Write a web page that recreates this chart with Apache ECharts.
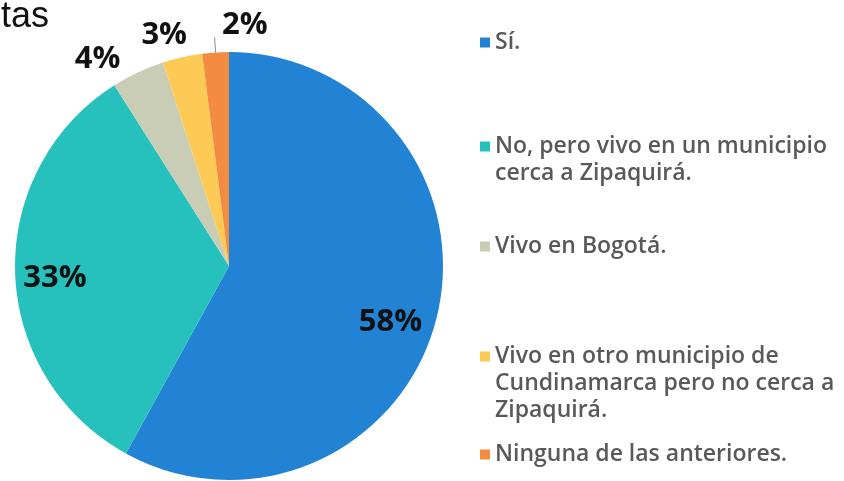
<!DOCTYPE html>
<html>
<head>
<meta charset="utf-8">
<script src="https://cdn.jsdelivr.net/npm/echarts@6/dist/echarts.min.js"></script>
<style>
  html, body { margin: 0; padding: 0; background: #fff; }
  #chart { width: 844px; height: 481px; }
</style>
</head>
<body>
<div id="chart"></div>
<script>
// datos de la encuesta
const categories = [
  'Sí.',
  'No, pero vivo en un municipio\ncerca a Zipaquirá.',
  'Vivo en Bogotá.',
  'Vivo en otro municipio de\nCundinamarca pero no cerca a\nZipaquirá.',
  'Ninguna de las anteriores.'
]
const values = [58, 33, 4, 3, 2]
const colors = ['#2283d5', '#26c1bd', '#c9cdb6', '#fdca55', '#f38b42']

// posicion de las etiquetas (estilo)
const labelConf = [
  { position: 'inside', offset: [55, 29] },
  { position: 'inside', offset: [-64, 9] },
  { position: 'outside', offset: [-6, 0], line: false },
  { position: 'outside', offset: [13, -7], line: false },
  { position: 'outside', offset: [58, -12], line: true }
]

// posicion vertical de cada leyenda
const legendTops = [24, 128, 228, 338, 436]
const lineH = 27

const chart = echarts.init(document.getElementById('chart'))

const legends = categories.map((name, i) => {
  const lines = name.split('\n').length
  const h = lines * lineH
  return {
    data: [name],
    left: 475,
    top: legendTops[i],
    orient: 'vertical',
    itemWidth: 10,
    itemHeight: h,
    itemGap: 0,
    symbolKeepAspect: false,
    // cuadro alineado con la primera linea
    icon: 'path://M0,0L0,0M10,' + h + 'L10,' + h + 'M0,8.5h10v10h-10z',
    itemStyle: { borderWidth: 0 },
    selectedMode: false,
    textStyle: {
      fontFamily: 'Open Sans',
      fontWeight: 600,
      fontSize: 23,
      color: '#595959',
      lineHeight: lineH,
      padding: [0, 0, 0, 0]
    }
  }
})

const option = {
  animation: false,
  title: {
    text: 'tas',
    left: -4,
    top: -6,
    textStyle: {
      fontFamily: 'Liberation Sans',
      fontWeight: 'normal',
      fontSize: 36,
      color: '#111'
    }
  },
  legend: legends,
  series: [{
    type: 'pie',
    center: [229, 266],
    radius: [0, 214],
    startAngle: 90,
    clockwise: true,
    avoidLabelOverlap: false,
    labelLayout: { hideOverlap: false },
    itemStyle: { borderWidth: 0 },
    label: {
      formatter: '{c}%',
      fontFamily: 'Open Sans',
      fontWeight: 'bold',
      fontSize: 31,
      color: '#111'
    },
    labelLine: {
      length: 15,
      length2: 0,
      lineStyle: { color: '#8c8c8c', width: 1 }
    },
    data: values.map((v, i) => ({
      name: categories[i],
      value: v,
      itemStyle: { color: colors[i] },
      label: { position: labelConf[i].position, offset: labelConf[i].offset },
      labelLine: { show: !!labelConf[i].line }
    }))
  }]
}

chart.setOption(option)
</script>
</body>
</html>
